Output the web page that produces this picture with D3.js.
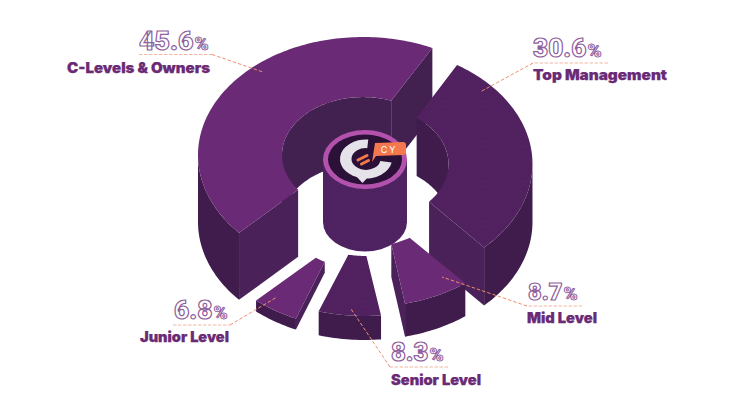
<!DOCTYPE html>
<html><head><meta charset="utf-8">
<script src="https://cdn.jsdelivr.net/npm/d3@7/dist/d3.min.js"></script>
<style>html,body{margin:0;padding:0;background:#fff}svg{display:block}</style>
</head><body><div id="c"></div>
<script>
const categories = ["C-Levels & Owners","Top Management","Mid Level","Senior Level","Junior Level"];
const shares = [45.6,30.6,8.7,8.3,6.8];
const extrusionStops = [67,58,33,24,11];

const W=730,H=413,CX=365,BASE=222,RX=165,TILT=0.715,HOLE=81/165,PAD=8*Math.PI/180,INSET=4.5*Math.PI/180;
const topFill=["#6a2a75","#50215e","#6a2a75","#50215e","#6a2a75"];
const textured=[false,true,false,true,false];
const outerFill="#401c4c",endFill="#4a2158",innerFill="#42204f";
const purple="#6a2a75",coral="#ee8f6e";
const labelPos=[[67,73,143],[533,80,134],[527,323,70],[391,385,90],[140,342,89]];
const valuePos=[[139,50,72],[533,57,71],[528,300,52],[391,361,55],[174,319,56]];
const leaders=[
 [[139,54.5],[212,54.5],[263,72]],
 [[608,63],[533,63],[480,92]],
 [[582,306],[527,306],[442,277]],
 [[448,367],[390,367],[351,309]],
 [[173,325],[230,325],[277,297]]];

const svg=d3.select("#c").append("svg").attr("width",W).attr("height",H).attr("viewBox",`0 0 ${W} ${H}`);
svg.append("rect").attr("width",W).attr("height",H).attr("fill","#fff");
const defs=svg.append("defs");
const pat=defs.append("pattern").attr("id","speck").attr("width",5).attr("height",5).attr("patternUnits","userSpaceOnUse");
pat.append("rect").attr("width",5).attr("height",5).attr("fill","#50215e");
pat.append("circle").attr("cx",1.5).attr("cy",1.5).attr("r",.5).attr("fill","#6d3a7c").attr("opacity",.3);
pat.append("circle").attr("cx",4).attr("cy",3.8).attr("r",.45).attr("fill","#6d3a7c").attr("opacity",.22);
const pat2=defs.append("pattern").attr("id","hubtex").attr("width",3).attr("height",3).attr("patternUnits","userSpaceOnUse");
pat2.append("rect").attr("width",3).attr("height",3).attr("fill","#4e2260");
pat2.append("circle").attr("cx",1.5).attr("cy",1.5).attr("r",.5).attr("fill","#5a2a6a").attr("opacity",.35);

const pie=d3.pie().sort(null).startAngle(224.7*Math.PI/180).endAngle((224.7+360)*Math.PI/180);
const height=d3.scaleOrdinal().domain(shares).range(extrusionStops);
const rx=d3.scaleLinear().domain([0,1]).range([0,RX]);
const line=d3.line().x(d=>d[0]).y(d=>d[1]);
const arcs=pie(shares).map((d,i)=>{
  const a0=d.startAngle-Math.PI/2+PAD/2,a1=d.endAngle-Math.PI/2-PAD/2,mid=(a0+a1)/2,h=height(d.value);
  return {i,a0,a1,h,cx:CX+2.5*Math.cos(mid),cy:BASE-h};
});
function P(s,a,r,drop=0){return [s.cx+rx(r)*Math.cos(a),s.cy+rx(r)*TILT*Math.sin(a)+drop];}
function sweep(a,b){const n=Math.max(2,Math.ceil(Math.abs(b-a)/0.02));return d3.range(n+1).map(k=>a+(b-a)*k/n);}
function overlap(a0,a1,lo,hi){
  for(let k=-2;k<=2;k++){const l=Math.max(a0,lo+2*Math.PI*k),h=Math.min(a1,hi+2*Math.PI*k);if(h>l)return [l,h];}
  return null;
}
function drawSlice(s){
  const g=svg.append("g").attr("class","slice");
  const i0=s.a0+INSET,i1=s.a1-INSET;
  const inn=overlap(i0,i1,Math.PI,2*Math.PI);
  if(inn){const t=sweep(inn[0],inn[1]).map(a=>P(s,a,HOLE)),b=sweep(inn[1],inn[0]).map(a=>P(s,a,HOLE,s.h));
    g.append("path").attr("d",line(t.concat(b))+"Z").attr("fill",s.i===0?innerFill:"#3f1c4c");}
  const face=(a,ai)=>[P(s,ai,HOLE),P(s,a,1),P(s,a,1,s.h),P(s,ai,HOLE,s.h)];
  if(Math.cos(s.a0)<0)g.append("path").attr("d",line(face(s.a0,i0))+"Z").attr("fill",endFill);
  if(Math.cos(s.a1)>0)g.append("path").attr("d",line(face(s.a1,i1))+"Z").attr("fill",s.i===0?"#42204f":endFill);
  const out=overlap(s.a0,s.a1,0,Math.PI);
  if(out){const t=sweep(out[0],out[1]).map(a=>P(s,a,1)),b=sweep(out[1],out[0]).map(a=>P(s,a,1,s.h));
    g.append("path").attr("d",line(t.concat(b))+"Z").attr("fill",outerFill);}
  const o=sweep(s.a0,s.a1).map(a=>P(s,a,1)),n=sweep(i1,i0).map(a=>P(s,a,HOLE));
  g.append("path").attr("d",line(o.concat(n))+"Z").attr("fill",textured[s.i]?"url(#speck)":topFill[s.i]);
}
function drawHub(){
  const x=365,y=159.5,a=42,b=29.5,g=svg.append("g");
  g.append("path").attr("d",`M${x-a},${y}V${BASE}A${a},${b} 0 0 0 ${x+a},${BASE}V${y}Z`).attr("fill","url(#hubtex)");
  g.append("ellipse").attr("cx",x).attr("cy",y).attr("rx",a).attr("ry",b).attr("fill","#b252ac");
  g.append("ellipse").attr("cx",x).attr("cy",y).attr("rx",37).attr("ry",25).attr("fill","#2b1038");
  const logo=g.append("g").attr("transform","translate(366,159) scale(1,.75)");
  logo.append("path").attr("d",d3.arc()({innerRadius:14.5,outerRadius:26,startAngle:100*Math.PI/180,endAngle:365*Math.PI/180})).attr("fill","#e6e2e9");
  g.append("path").attr("d","M356,176L369,176L362.5,183Z").attr("fill","#e6e2e9");
  g.append("path").attr("d","M358,160L367,155.5M361.5,164L368.5,160.5").attr("stroke","#f07a4a").attr("stroke-width",3).attr("stroke-linecap","round");
}
function drawTag(){
  const g=svg.append("g");
  g.append("path").attr("d","M375,143L403,142Q406,142 406,145L406,152.5Q406,155 403,155L376,156L372,162Z").attr("fill","#f4774e");
  g.append("text").attr("x",389).attr("y",153).attr("text-anchor","middle").attr("font-family","Inter, sans-serif").attr("font-size",9).attr("font-weight",400).attr("letter-spacing",2).attr("fill","#fff").text("CY");
}
drawSlice(arcs[0]);
drawSlice(arcs[1]);
drawHub();
drawSlice(arcs[2]);
drawSlice(arcs[3]);
drawSlice(arcs[4]);
drawTag();

leaders.forEach(l=>{
  svg.append("path").attr("d",line(l.slice(0,2))).attr("fill","none").attr("stroke","#f2b7a2").attr("stroke-width",1).attr("stroke-dasharray","3.5 1.5");
  svg.append("path").attr("d",line(l.slice(1))).attr("fill","none").attr("stroke",coral).attr("stroke-width",1).attr("stroke-dasharray","3.5 2");
});
categories.forEach((c,i)=>{
  const [x,y,w]=labelPos[i];
  svg.append("text").attr("x",x).attr("y",y).attr("font-family","Inter, sans-serif").attr("font-weight",900).attr("font-size",14)
    .attr("fill",purple).attr("stroke",purple).attr("stroke-width",.25).attr("textLength",w).attr("lengthAdjust","spacingAndGlyphs").text(c);
  const [vx,vy,vw]=valuePos[i];
  const pw=16.5,nw=vw-pw-1;
  const style=sel=>sel.attr("y",vy).attr("font-family","Roboto, sans-serif").attr("font-weight",900)
    .attr("fill","#fff").attr("stroke","#8f5f9e").attr("stroke-width",1.2);
  const num=style(svg.append("text")).attr("x",vx).attr("font-size",27).text(d3.format(".1f")(shares[i]));
  const natural=num.node().getComputedTextLength();
  if(natural>nw) num.attr("font-size",27*nw/natural);
  else num.attr("lengthAdjust","spacingAndGlyphs").attr("textLength",nw);
  style(svg.append("text")).attr("x",vx+nw+1).attr("font-size",19).attr("stroke-width",1).text("%");
});
</script></body></html>
